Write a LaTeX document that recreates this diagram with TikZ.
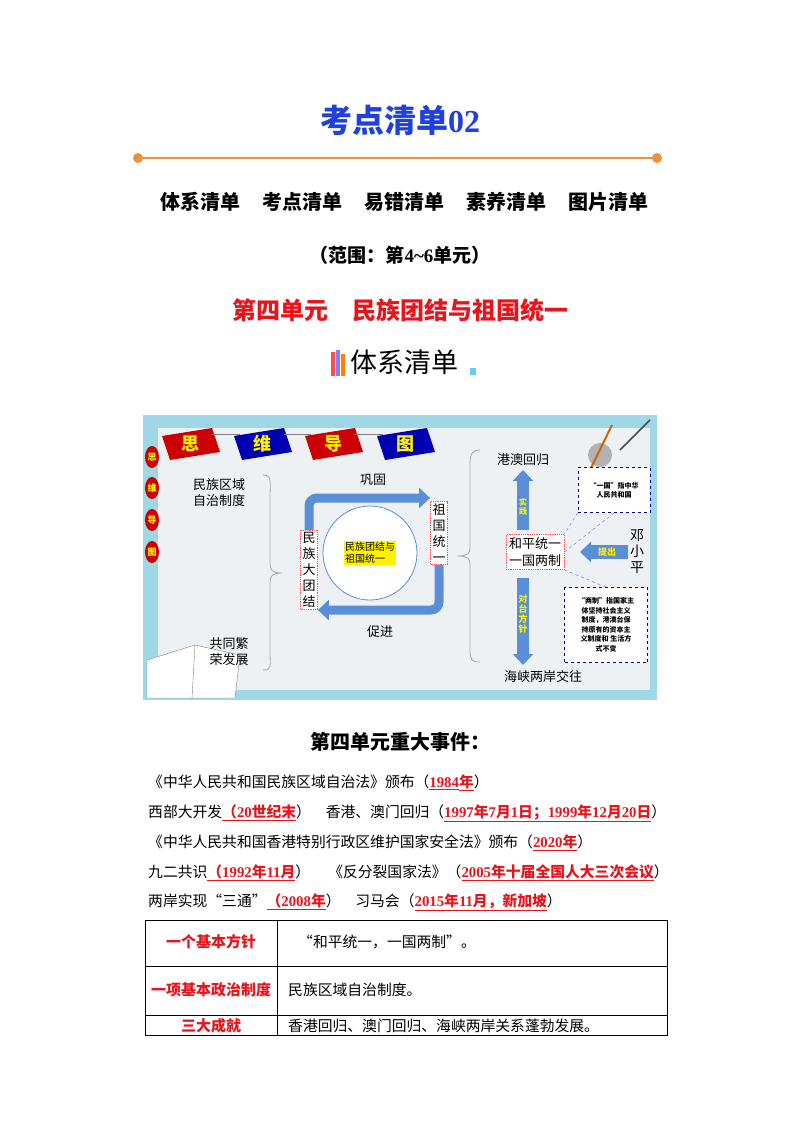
\documentclass[tikz,border=0pt]{standalone}
\usepackage{fontspec}
\setmainfont{Noto Sans CJK SC}
\newfontfamily\cjk{Noto Sans CJK SC}
\newfontfamily\num{Liberation Serif}
\usetikzlibrary{arrows.meta,shapes.geometric}
\definecolor{tblue}{HTML}{1F3FE0}
\definecolor{tred}{HTML}{E8141C}
\definecolor{torg}{HTML}{F0903A}
\definecolor{mblue}{HTML}{5A8FD8}
\definecolor{bgm}{HTML}{EEF1F4}
\definecolor{bord}{HTML}{9ED7E6}
\tikzset{
 body/.style={anchor=west,inner sep=0,font=\fontsize{14.8}{15}\selectfont},
 dbox/.style={draw=red!70,densely dotted,thick,fill=white},
 dash box/.style={draw=blue!60!black,dashed,thick,fill=white},
 thick arrow/.style={line width=9pt,mblue,-{Triangle[length=11pt,width=20pt]}},
 brace/.style={draw=gray!70,thick},
}
\newcommand{\ul}[1]{\textcolor{tred}{\bfseries\underline{#1}}}
\begin{document}
\begin{tikzpicture}[x=1pt,y=-1pt]
\useasboundingbox (0,0) rectangle (800,1132);
\fill[white] (0,0) rectangle (800,1132);
% title
\node[tblue,font=\bfseries\fontsize{32}{32}\selectfont] (title) at (400,120) {考点清单{\num 02}};
\draw[torg,line width=1.5pt] (138,158) -- (657,158);
\fill[torg] (138,158) circle (5); \fill[torg] (657,158) circle (5);
\node[font=\bfseries\fontsize{20}{20}\selectfont] (menu) at (404,202) {体系清单\hspace{22pt}考点清单\hspace{22pt}易错清单\hspace{22pt}素养清单\hspace{22pt}图片清单};
\node[font=\bfseries\fontsize{19}{19}\selectfont] (range) at (400,255) {（范围：第{\num 4\textasciitilde6}单元）};
\node[tred,font=\bfseries\fontsize{24}{24}\selectfont] (unit) at (400,310) {第四单元\quad 民族团结与祖国统一};
% icon
\fill[red!70] (331,352) rectangle (335,376);
\fill[blue!50] (336,350) rectangle (340,376);
\fill[orange] (341,354) rectangle (345,376);
\fill[cyan!60] (470,368) rectangle (476,375);
\node[font=\fontsize{27}{27}\selectfont,anchor=west,inner sep=0] (tixi) at (350,362) {体系清单};
% mind map
\fill[bord] (143,415) rectangle (657,700);
\fill[bgm] (158,428) rectangle (650,690);
\foreach \x/\c/\t in {190/red!80!black/思,262/blue!70!black/维,333/red!80!black/导,405/blue!70!black/图}{
 \fill[\c] (\x-28,436) -- (\x+22,428) -- (\x+30,452) -- (\x-20,460) -- cycle;
 \node[yellow,font=\bfseries\fontsize{18}{18}\selectfont] at (\x,444) {\t};
}
\draw[gray,thick] (212,434) -- (240,434) (284,434) -- (311,434) (355,434) -- (383,434);
\foreach \y/\t in {457/思,488/维,520/导,552/图}{
 \fill[red!80!black] (152,\y) ellipse (7 and 11);
 \node[yellow,font=\bfseries\fontsize{9}{9}\selectfont] at (152,\y) {\t};
}
% book
\fill[white,draw=gray] (147,660) -- (195,645) -- (240,655) -- (235,698) -- (147,698) -- cycle;
\draw[gray] (195,645) -- (192,698);
% pen
\fill[gray!60] (600,455) circle (12);
\draw[orange!80!black,line width=2pt] (590,470) -- (612,425);
\draw[black!70,line width=1.5pt] (620,450) -- (650,420);
\node[align=left,font=\fontsize{13}{16}\selectfont] (mzq) at (219,493) {民族区域\\自治制度};
\node[align=left,font=\fontsize{13}{16}\selectfont] (gtf) at (229,652) {共同繁\\荣发展};
\draw[brace] (263,475) .. controls (272,475) and (270,480) .. (270,500) -- (270,563) .. controls (270,570) and (272,573) .. (282,573) .. controls (272,573) and (270,576) .. (270,583) -- (270,650) .. controls (270,667) and (272,670) .. (263,670);
% center
\draw[mblue,thick,fill=white] (370,553) circle (47);
\node[fill=yellow,inner sep=1pt,align=left,font=\fontsize{10}{12}\selectfont] (core) at (370,553) {民族团结与\\祖国统一};
\node[dbox,inner sep=2pt,align=center,font=\fontsize{13}{16}\selectfont] (mzd) at (309,570) {民\\族\\大\\团\\结};
\node[dbox,inner sep=2pt,align=center,font=\fontsize{13}{16}\selectfont] (zgt) at (439,533) {祖\\国\\统\\一};
\draw[thick arrow,rounded corners=8pt] (mzd.north) -- (309,498) -- (zgt.west|-0,498);
\draw[thick arrow,rounded corners=8pt] (zgt.south) -- (439,610) -- (mzd.east|-0,610);
\node[font=\fontsize{13}{13}\selectfont] (gg) at (373,480) {巩固};
\node[font=\fontsize{13}{13}\selectfont] (cj) at (380,632) {促进};
% right
\draw[brace] (480,450) .. controls (472,450) and (470,454) .. (470,465) -- (470,548) .. controls (470,553) and (468,556) .. (458,556) .. controls (468,556) and (470,559) .. (470,564) -- (470,650) .. controls (470,660) and (472,662) .. (480,662);
\node[font=\fontsize{13}{13}\selectfont] (gao) at (523,460) {港澳回归};
\node[font=\fontsize{13}{13}\selectfont] (hx) at (543,677) {海峡两岸交往};
\node[dbox,inner sep=3pt,align=center,font=\fontsize{13}{17}\selectfont] (hp) at (535,552) {和平统一\\一国两制};
\draw[thick arrow,line width=12pt] (523,530) -- (523,470);
\draw[thick arrow,line width=12pt] (523,578) -- (523,665);
\node[yellow,align=center,font=\bfseries\fontsize{8}{9}\selectfont] (sj) at (523,507) {实\\践};
\node[yellow,align=center,font=\bfseries\fontsize{9}{10}\selectfont] (dt) at (523,614) {对\\台\\方\\针};
\node[align=center,font=\fontsize{14}{16}\selectfont] (dxp) at (637,552) {邓\\小\\平};
\draw[thick arrow,line width=14pt] (628,552) -- (580,552);
\node[yellow,font=\bfseries\fontsize{9}{9}\selectfont] (tc) at (607,552) {提出};
\node[dash box,minimum width=72pt,minimum height=45pt,align=center,font=\bfseries\fontsize{7}{9}\selectfont] (b1) at (614,490) {“一国”指中华\\人民共和国};
\node[dash box,minimum width=83pt,minimum height=75pt,align=center,font=\bfseries\fontsize{7}{9.5}\selectfont] (b2) at (606,625) {“两制”指国家主\\体坚持社会主义\\制度，港澳台保\\持原有的资本主\\义制度和 生活方\\式不变};
\draw[blue!60,dashed] (b1.south west) -- (hp.north east);
\draw[blue!60,dashed] (b1.south) -- (hp.east);
\draw[blue!60,dashed] (b2.north) -- (hp.south east);
% events
\node[font=\bfseries\fontsize{20}{20}\selectfont] (ev) at (400,742) {第四单元重大事件：};
\node[body] (l1) at (148,783) {《中华人民共和国民族区域自治法》颁布（\ul{\num 1984}\ul{年}）};
\node[body] (l2) at (148,813) {西部大开发\ul{（{\num 20}世纪末}）\quad 香港、澳门回归（\ul{{\num 1997}年{\num 7}月{\num 1}日；{\num 1999}年{\num 12}月{\num 20}日}）};
\node[body] (l3) at (148,843) {《中华人民共和国香港特别行政区维护国家安全法》颁布（\ul{{\num 2020}年}）};
\node[body] (l4) at (148,873) {九二共识\ul{（{\num 1992}年{\num 11}月}）\quad\ 《反分裂国家法》（\ul{{\num 2005}年十届全国人大三次会议}）};
\node[body] (l5) at (148,902) {两岸实现“三通”\ul{（{\num 2008}年}）\quad 习马会（\ul{{\num 2015}年{\num 11}月，新加坡}）};
% table
\draw[thick] (145,920) rectangle (667,1035);
\draw[thick] (145,966) -- (667,966) (145,1015) -- (667,1015) (277,920) -- (277,1035);
\node[tred,font=\bfseries\fontsize{15}{15}\selectfont] (t1) at (211,942) {一个基本方针};
\node[tred,font=\bfseries\fontsize{15}{15}\selectfont] (t2) at (211,990) {一项基本政治制度};
\node[tred,font=\bfseries\fontsize{15}{15}\selectfont] (t3) at (211,1026) {三大成就};
\node[body] (c1) at (298,942) {“和平统一，一国两制”。};
\node[body] (c2) at (288,990) {民族区域自治制度。};
\node[body] (c3) at (288,1026) {香港回归、澳门回归、海峡两岸关系蓬勃发展。};
\end{tikzpicture}
\end{document}
